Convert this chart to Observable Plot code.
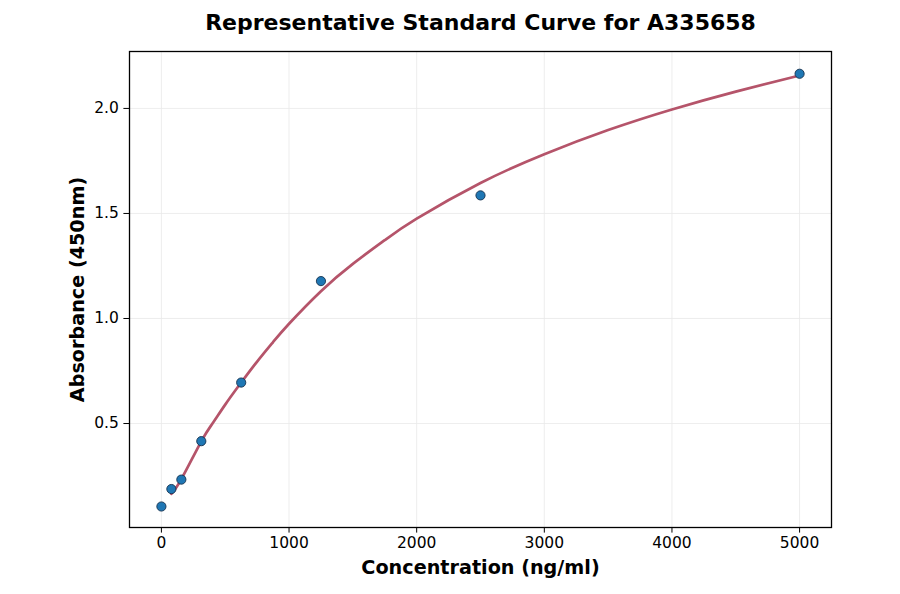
<!DOCTYPE html>
<html>
<head>
<meta charset="utf-8">
<script src="https://cdn.jsdelivr.net/npm/d3@7"></script>
<script src="https://cdn.jsdelivr.net/npm/@observablehq/plot@0.6"></script>
<style>
  html, body { margin: 0; padding: 0; background: #fff; }
  #chart { width: 900px; height: 594px; }
</style>
</head>
<body>
<div id="chart"></div>
<script>
const titleText = "Representative Standard Curve for A335658";
const xLabel = "Concentration (ng/ml)";
const yLabel = "Absorbance (450nm)";

// Standard points
const concentrations = [0, 78.125, 156.25, 312.5, 625, 1250, 2500, 5000];
const absorbances = [0.105, 0.188, 0.233, 0.416, 0.695, 1.178, 1.586, 2.165];

// Fitted curve
const curveX = [78.125, 156.25, 312.5, 400, 500, 625, 750, 875, 1000, 1250, 1500, 1750, 2000, 2500, 3000, 3500, 4000, 4500, 5000];
const curveY = [0.165, 0.235, 0.415, 0.5, 0.59, 0.695, 0.795, 0.888, 0.975, 1.13, 1.26, 1.373, 1.475, 1.645, 1.782, 1.897, 1.995, 2.08, 2.157];

const xTicks = [0, 1000, 2000, 3000, 4000, 5000];
const yTicks = [0.5, 1.0, 1.5, 2.0];

const points = concentrations.map((c, i) => ({x: c, y: absorbances[i]}));
const curve = curveX.map((c, i) => ({x: c, y: curveY[i]}));

const chart = Plot.plot({
  width: 900,
  height: 594,
  marginLeft: 129,
  marginRight: 69,
  marginTop: 51,
  marginBottom: 67,
  style: {fontFamily: "DejaVu Sans", fontSize: "15.5px", color: "#000", background: "#fff"},
  x: {domain: [-250, 5250]},
  y: {domain: [0.005, 2.271]},
  marks: [
    Plot.gridX(xTicks, {stroke: "#e8e8e8", strokeOpacity: 1, strokeWidth: 0.8}),
    Plot.gridY(yTicks, {stroke: "#e8e8e8", strokeOpacity: 1, strokeWidth: 0.8}),
    Plot.line(curve, {x: "x", y: "y", stroke: "#b5546a", strokeWidth: 2.7, curve: "natural"}),
    Plot.dot(points, {x: "x", y: "y", r: 4.6, fill: "#1f77b4", stroke: "#16324f", strokeWidth: 0.9}),
    Plot.frame({stroke: "#000", strokeWidth: 1.3}),
    Plot.axisX(xTicks, {tickSize: 5.6, tickPadding: 4, fontSize: 15.5, label: null, stroke: "#000", tickFormat: d3.format("d")}),
    Plot.axisY(yTicks, {tickSize: 5.6, tickPadding: 5, fontSize: 15.5, label: null, stroke: "#000", tickFormat: d3.format(".1f")}),
    Plot.text([xLabel], {frameAnchor: "bottom", dy: 40, lineAnchor: "middle", fontSize: 19.2, fontWeight: "bold", text: d => d}),
    Plot.text([yLabel], {frameAnchor: "left", dx: -52, rotate: -90, textAnchor: "middle", lineAnchor: "middle", fontSize: 19.2, fontWeight: "bold", text: d => d}),
    Plot.text([titleText], {frameAnchor: "top", dy: -29, lineAnchor: "middle", fontSize: 22, fontWeight: "bold", text: d => d})
  ]
});
document.getElementById("chart").appendChild(chart);
</script>
</body>
</html>
